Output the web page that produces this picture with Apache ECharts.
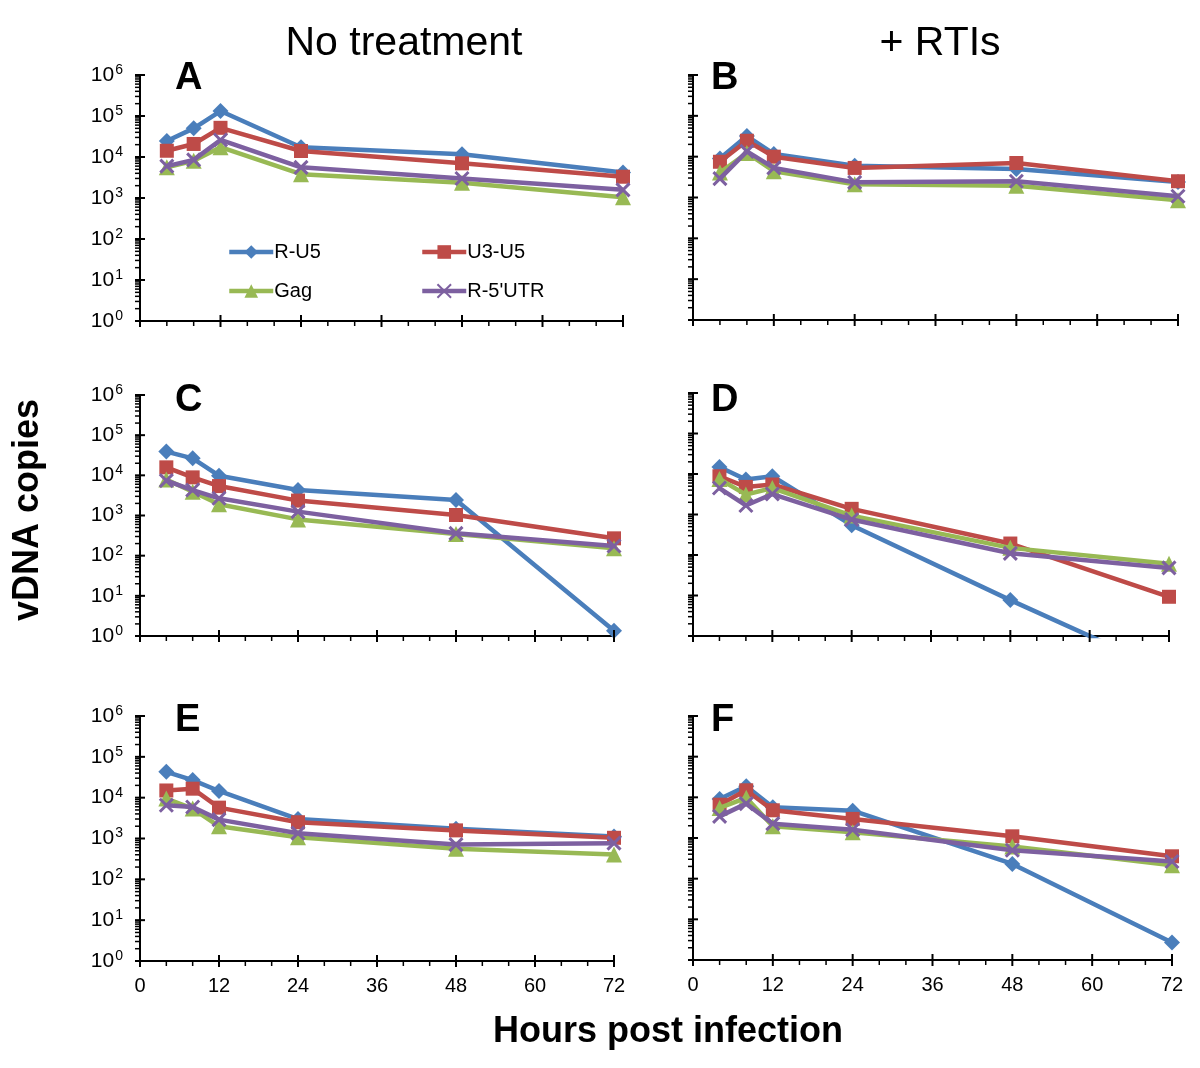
<!DOCTYPE html>
<html><head><meta charset="utf-8">
<script src="https://cdn.jsdelivr.net/npm/echarts@6/dist/echarts.min.js"></script>
<style>html,body{margin:0;padding:0;background:#fff}#c{width:1200px;height:1068px}</style>
</head><body><div id="c"></div>
<script>
// ---------- DATA ----------
const hours = [4, 8, 12, 24, 48, 72];
const seriesNames = ['R-U5', 'U3-U5', 'Gag', "R-5'UTR"];
const xTickLabels = [0, 12, 24, 36, 48, 60, 72];
const yTickExponents = [0, 1, 2, 3, 4, 5, 6];
const panelLetters = ['A', 'B', 'C', 'D', 'E', 'F'];
const columnTitles = ['No treatment', '+ RTIs'];
const yAxisTitle = 'vDNA copies';
const xAxisTitle = 'Hours post infection';

// Panel A (No treatment)
const aRU5   = [24500, 50000, 132000, 17300, 11700, 4200];
const aU3U5  = [14200, 20800, 51500, 14000, 7000, 3300];
const aGag   = [5600, 8100, 17300, 3800, 2350, 1040];
const aR5UTR = [6000, 8500, 26000, 5600, 3000, 1580];
// Panel B (+ RTIs)
const bRU5   = [9000, 32000, 11700, 6000, 5000, 2400];
const bU3U5  = [7500, 24500, 10000, 5300, 7000, 2500];
const bGag   = [4100, 12300, 4400, 2100, 1950, 860];
const bR5UTR = [2900, 13500, 5300, 2350, 2500, 1070];
// Panel C
const cRU5   = [39000, 26500, 9800, 4300, 2430, 1.35];
const cU3U5  = [15800, 8900, 5400, 2350, 1030, 270];
const cGag   = [7900, 3900, 1900, 800, 345, 152];
const cR5UTR = [7400, 4300, 2680, 1250, 360, 174];
// Panel D
const dRU5   = [14900, 7300, 8800, 545, 7.7, 0.13];
const dU3U5  = [8800, 4800, 5500, 1380, 192, 9.3];
const dGag   = [7500, 3100, 4500, 940, 150, 61];
const dR5UTR = [4500, 1670, 3200, 750, 110, 48];
// Panel E
const eRU5   = [43000, 27000, 14600, 3000, 1730, 1120];
const eU3U5  = [15000, 16600, 5700, 2500, 1580, 1040];
const eGag   = [9500, 5400, 1990, 1070, 560, 405];
const eR5UTR = [6500, 5900, 2900, 1350, 710, 770];
// Panel F
const fRU5   = [9100, 18700, 5700, 4700, 230, 2.7];
const fU3U5  = [6600, 14900, 4800, 2950, 1100, 355];
const fGag   = [5500, 9700, 1940, 1380, 620, 213];
const fR5UTR = [3400, 7000, 2250, 1600, 500, 265];

// ---------- LAYOUT / STYLE ----------
const panelValues = [
  [aRU5, aU3U5, aGag, aR5UTR],
  [bRU5, bU3U5, bGag, bR5UTR],
  [cRU5, cU3U5, cGag, cR5UTR],
  [dRU5, dU3U5, dGag, dR5UTR],
  [eRU5, eU3U5, eGag, eR5UTR],
  [fRU5, fU3U5, fGag, fR5UTR]
];
const grids = [
  {left: 140, top: 75,  width: 483, height: 246},
  {left: 693, top: 75,  width: 485, height: 245},
  {left: 140, top: 395, width: 474, height: 241},
  {left: 693, top: 393, width: 476, height: 243},
  {left: 140, top: 716, width: 474, height: 245},
  {left: 693, top: 716, width: 479, height: 244}
];
const colors = ['#4A7EBB', '#BE4B48', '#98B954', '#7D60A0'];
const symbols = ['diamond', 'rect', 'triangle', 'path://M0,0L10,10M10,0L0,10'];
const symbolSizes = [16, 14, 16, 13];
const FONT = '"Liberation Sans", Arial, sans-serif';

function tickItems() {
  const d = [];
  yTickExponents.forEach(e => d.push([0, Math.pow(10, e), 0]));
  for (let e = 0; e < 6; e++) for (let k = 2; k <= 9; k++) d.push([0, k * Math.pow(10, e), 1]);
  xTickLabels.forEach(t => d.push([t, 1, 2]));
  for (let t = 4; t < 72; t += 4) if (t % 12) d.push([t, 1, 3]);
  return d;
}

const xAxes = [], yAxes = [], series = [];
grids.forEach((g, i) => {
  const bottomRow = i >= 4, leftCol = i % 2 === 0;
  xAxes.push({
    gridIndex: i, type: 'value', min: 0, max: 72, interval: 12,
    axisLine: {show: true, lineStyle: {color: '#000', width: 2}},
    axisTick: {show: false}, splitLine: {show: false},
    axisLabel: {show: bottomRow, color: '#000', fontSize: 20, fontFamily: FONT, margin: 15}
  });
  yAxes.push({
    gridIndex: i, type: 'log', logBase: 10, min: 1, max: 1000000, splitNumber: 6,
    axisLine: {show: true, lineStyle: {color: '#000', width: 2}},
    axisTick: {show: false}, splitLine: {show: false}, minorTick: {show: false},
    axisLabel: {
      show: leftCol, color: '#000', margin: 17, fontFamily: FONT,
      formatter: v => '{b|10}{s|' + Math.round(Math.log10(v)) + '}',
      rich: {
        b: {fontSize: 21, fontFamily: FONT, color: '#000'},
        s: {fontSize: 14, fontFamily: FONT, color: '#000', padding: [0, 0, 10, 1]}
      }
    }
  });
  panelValues[i].forEach((vals, s) => {
    series.push({
      name: seriesNames[s], type: 'line', xAxisIndex: i, yAxisIndex: i,
      data: hours.map((h, k) => [h, vals[k]]),
      symbol: symbols[s], symbolSize: symbolSizes[s], showSymbol: true,
      lineStyle: {color: colors[s], width: 4.5},
      itemStyle: {color: colors[s], borderColor: colors[s], borderWidth: s === 3 ? 3 : 0},
      clip: true, animation: false, z: 3 + s
    });
  });
  series.push({
    type: 'custom', xAxisIndex: i, yAxisIndex: i, silent: true, animation: false, z: 10,
    data: tickItems(),
    renderItem: (params, api) => {
      const kind = api.value(2);
      const p = api.coord([api.value(0), api.value(1)]);
      let shape;
      if (kind === 0) shape = {x1: p[0] - 5, y1: p[1], x2: p[0] + 5, y2: p[1]};
      else if (kind === 1) shape = {x1: p[0] - 5, y1: p[1], x2: p[0], y2: p[1]};
      else if (kind === 2) shape = {x1: p[0], y1: p[1] - 6, x2: p[0], y2: p[1] + 6};
      else shape = {x1: p[0], y1: p[1], x2: p[0], y2: p[1] + 5};
      return {type: 'line', shape, style: {stroke: '#000', lineWidth: (kind % 2) ? 1.5 : 2}};
    }
  });
});

const legendPos = [[227, 242], [420, 242], [227, 281], [420, 281]];
const legends = seriesNames.map((n, i) => ({
  data: [n], left: legendPos[i][0], top: legendPos[i][1], padding: 0,
  itemWidth: 44, itemHeight: 17, itemGap: 5, selectedMode: false,
  lineStyle: {width: 4.5},
  textStyle: {fontSize: 20, color: '#000', fontFamily: FONT, padding: [0, 0, 0, -4]}
}));

const letterPos = [[175, 79], [711, 79], [175, 401], [711, 401], [175, 721], [711, 721]];
const graphics = [];
panelLetters.forEach((L, i) => graphics.push({
  type: 'text', x: letterPos[i][0], y: letterPos[i][1],
  style: {text: L, font: 'bold 38px ' + FONT, fill: '#000', align: 'left', verticalAlign: 'middle'}
}));
graphics.push({type: 'text', x: 404, y: 44, style: {text: columnTitles[0], font: '41px ' + FONT, fill: '#000', align: 'center', verticalAlign: 'middle'}});
graphics.push({type: 'text', x: 940, y: 44, style: {text: columnTitles[1], font: '41px ' + FONT, fill: '#000', align: 'center', verticalAlign: 'middle'}});
graphics.push({type: 'text', x: 28, y: 510, rotation: Math.PI / 2, style: {text: yAxisTitle, font: 'bold 36px ' + FONT, fill: '#000', align: 'center', verticalAlign: 'middle'}});
graphics.push({type: 'text', x: 668, y: 1032, style: {text: xAxisTitle, font: 'bold 36px ' + FONT, fill: '#000', align: 'center', verticalAlign: 'middle'}});

const chart = echarts.init(document.getElementById('c'), null, {renderer: 'canvas'});
chart.setOption({
  backgroundColor: '#fff', animation: false,
  grid: grids, xAxis: xAxes, yAxis: yAxes, series, legend: legends, graphic: graphics
});
</script></body></html>
